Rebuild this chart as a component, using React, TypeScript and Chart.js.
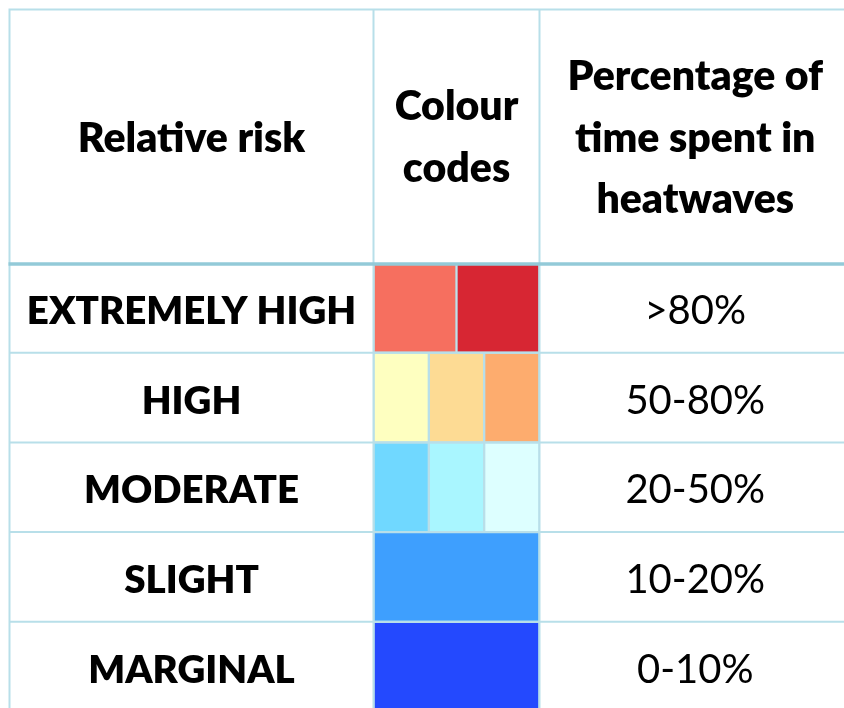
import { useEffect, useRef } from "react";
import { Chart, registerables } from "chart.js";

Chart.register(...registerables);

// ---- data ----
const riskLevels = ["EXTREMELY HIGH", "HIGH", "MODERATE", "SLIGHT", "MARGINAL"];
const percentRanges = [">80%", "50-80%", "20-50%", "10-20%", "0-10%"];
const headerRisk = ["Relative risk"];
const headerColour = ["Colour", "codes"];
const headerPercent = ["Percentage of", "time spent in", "heatwaves"];

// colour-code cells per row (share of a 6-unit wide column)
const cell1Values = [3, 2, 2, 6, 6];
const cell2Values = [3, 2, 2, null, null];
const cell3Values = [null, 2, 2, null, null];
const cell1Colors = ["#f66f5f", "#feffc0", "#70d8ff", "#3e9ffe", "#2449fe"];
const cell2Colors = ["#d72633", "#fddb94", "#a9f6ff", "#3e9ffe", "#2449fe"];
const cell3Colors = ["#d72633", "#fdac6e", "#ddffff", "#3e9ffe", "#2449fe"];

const FONT = "Lato, 'Open Sans', sans-serif";
const LINE = "#b8dfe9";
const HEAD_LINE = "#93cad8";

const tablePlugin = {
  id: "tableDecor",
  afterDatasetsDraw(chart: any) {
    const { ctx, chartArea } = chart;
    const yScale = chart.scales.y;
    const left = 9.5;
    const top = 9.5;
    const right = 851;
    const bottom = 760;
    const colA = chartArea.left;
    const colB = chartArea.right;
    const band = yScale.getPixelForValue(1) - yScale.getPixelForValue(0);

    ctx.save();
    // grid lines
    ctx.strokeStyle = LINE;
    ctx.lineWidth = 2;
    ctx.beginPath();
    ctx.moveTo(left - 1, top);
    ctx.lineTo(right, top);
    ctx.moveTo(left, top);
    ctx.lineTo(left, bottom);
    ctx.moveTo(colA, top);
    ctx.lineTo(colA, bottom);
    ctx.moveTo(colB, top);
    ctx.lineTo(colB, bottom);
    ctx.moveTo(right, top);
    ctx.lineTo(right, bottom);
    for (let i = 1; i < riskLevels.length; i++) {
      const yb = yScale.getPixelForValue(i) - band / 2;
      ctx.moveTo(left, yb);
      ctx.lineTo(right, yb);
    }
    const yl = yScale.getPixelForValue(riskLevels.length - 1) + band / 2;
    ctx.moveTo(left, yl);
    ctx.lineTo(right, yl);
    ctx.stroke();

    ctx.strokeStyle = HEAD_LINE;
    ctx.lineWidth = 3.5;
    ctx.beginPath();
    ctx.moveTo(left - 1, chartArea.top + 1);
    ctx.lineTo(right, chartArea.top + 1);
    ctx.stroke();

    // texts
    ctx.fillStyle = "#000000";
    ctx.textAlign = "center";
    ctx.textBaseline = "alphabetic";
    const c1 = (left + colA) / 2;
    const c3 = (colB + right) / 2;
    const c2 = (colA + colB) / 2;

    ctx.font = `800 41px ${FONT}`;
    ctx.fillText(headerRisk[0], c1, 152);
    headerColour.forEach((t, i) => ctx.fillText(t, c2, 120 + i * 62));
    headerPercent.forEach((t, i) => ctx.fillText(t, c3, 90 + i * 61.5));

    riskLevels.forEach((t, i) => {
      const yc = yScale.getPixelForValue(i);
      ctx.font = `800 38.5px ${FONT}`;
      ctx.fillText(t, c1, yc + 16);
      ctx.font = `40px ${FONT}`;
      ctx.fillText(percentRanges[i], c3, yc + 16);
    });
    ctx.restore();
  },
};

export default function App() {
  const ref = useRef<HTMLCanvasElement | null>(null);
  useEffect(() => {
    if (!ref.current) return;
    const chart = new Chart(ref.current, {
      type: "bar",
      data: {
        labels: riskLevels,
        datasets: [
          { data: cell1Values, backgroundColor: cell1Colors },
          { data: cell2Values, backgroundColor: cell2Colors },
          { data: cell3Values, backgroundColor: cell3Colors },
        ] as any,
      },
      options: {
        indexAxis: "y",
        responsive: false,
        animation: false,
        devicePixelRatio: 1,
        layout: { padding: { left: 373.5, right: 860 - 539.5, top: 263, bottom: 720 - 711.5 } },
        datasets: {
          bar: {
            categoryPercentage: 1,
            barPercentage: 1,
            borderWidth: 1.5,
            borderColor: LINE,
            borderSkipped: false,
          },
        },
        scales: {
          x: { type: "linear", stacked: true, min: 0, max: 6, display: false },
          y: { type: "category", stacked: true, display: false, offset: true },
        },
        plugins: {
          legend: { display: false },
          tooltip: { enabled: false },
        },
      } as any,
      plugins: [tablePlugin],
    });
    return () => chart.destroy();
  }, []);
  return (
    <div
      style={{
        position: "fixed",
        left: 0,
        top: 0,
        width: 844,
        height: 708,
        overflow: "hidden",
        background: "#ffffff",
      }}
    >
      <canvas ref={ref} width={860} height={720} style={{ display: "block", width: 860, height: 720 }} />
    </div>
  );
}
